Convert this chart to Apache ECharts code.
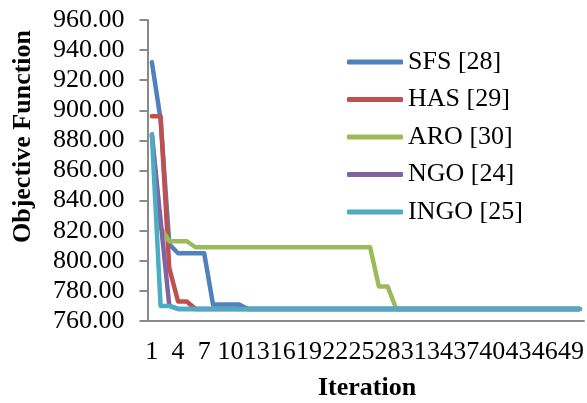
<!DOCTYPE html>
<html>
<head>
<meta charset="utf-8">
<script src="https://cdn.jsdelivr.net/npm/echarts@6/dist/echarts.min.js"></script>
<style>
html,body{margin:0;padding:0;background:#fff;}
#chart{width:587px;height:403px;}
</style>
</head>
<body>
<div id="chart"></div>
<script>
const iterations = ["1","2","3","4","5","6","7","8","9","10","11","12","13","14","15","16","17","18","19","20","21","22","23","24","25","26","27","28","29","30","31","32","33","34","35","36","37","38","39","40","41","42","43","44","45","46","47","48","49","50"];
const seriesNames = ["SFS [28]", "HAS [29]", "ARO [30]", "NGO [24]", "INGO [25]"];
const sfs  = [932,894,811,805,805,805,805,771,771,771,771,768,768,768,768,768,768,768,768,768,768,768,768,768,768,768,768,768,768,768,768,768,768,768,768,768,768,768,768,768,768,768,768,768,768,768,768,768,768,768];
const has  = [896,896,795,773,773,768,768,768,768,768,768,768,768,768,768,768,768,768,768,768,768,768,768,768,768,768,768,768,768,768,768,768,768,768,768,768,768,768,768,768,768,768,768,768,768,768,768,768,768,768];
const aro  = [884,822,813,813,813,809,809,809,809,809,809,809,809,809,809,809,809,809,809,809,809,809,809,809,809,809,783,783,768,768,768,768,768,768,768,768,768,768,768,768,768,768,768,768,768,768,768,768,768,768];
const ngo  = [884,827,770,768,768,768,768,768,768,768,768,768,768,768,768,768,768,768,768,768,768,768,768,768,768,768,768,768,768,768,768,768,768,768,768,768,768,768,768,768,768,768,768,768,768,768,768,768,768,768];
const ingo = [884,770,770,768,768,768,768,768,768,768,768,768,768,768,768,768,768,768,768,768,768,768,768,768,768,768,768,768,768,768,768,768,768,768,768,768,768,768,768,768,768,768,768,768,768,768,768,768,768,768];
const colors = ["#4F81BD", "#C0504D", "#9BBB59", "#8064A2", "#4BACC6"];
const yMin = 760, yMax = 960, yStep = 20;

const font = "Liberation Serif";
const allData = [sfs, has, aro, ngo, ingo];

const chart = echarts.init(document.getElementById('chart'), null, {renderer: 'canvas'});
chart.setOption({
  animation: false,
  color: colors,
  grid: {left: 147.5, right: 3, top: 20, bottom: 82, containLabel: false},
  legend: {
    orient: 'vertical',
    left: 347, top: 49,
    padding: 0,
    icon: 'roundRect',
    itemWidth: 56, itemHeight: 5,
    itemGap: 11.5,
    textStyle: {fontFamily: font, fontSize: 26, color: '#000', lineHeight: 26, padding: [0,0,0,0]},
    data: seriesNames
  },
  xAxis: {
    type: 'category',
    data: iterations,
    boundaryGap: true,
    axisLine: {lineStyle: {color: '#898989', width: 2}},
    axisTick: {show: false},
    axisLabel: {interval: 2, margin: 18, fontFamily: font, fontSize: 26, color: '#000'},
    splitLine: {show: false}
  },
  yAxis: {
    type: 'value',
    min: yMin, max: yMax, interval: yStep,
    axisLine: {show: true, lineStyle: {color: '#898989', width: 2}},
    axisTick: {show: true, length: 8, lineStyle: {color: '#898989', width: 2}},
    axisLabel: {margin: 23, fontFamily: font, fontSize: 26, color: '#000', formatter: v => v.toFixed(2)},
    splitLine: {show: false}
  },
  graphic: [
    {type: 'text', x: 23, y: 136.5, rotation: Math.PI/2,
     style: {text: 'Objective Function', fontFamily: font, fontSize: 26, fontWeight: 'bold', fill: '#000', align: 'center', verticalAlign: 'middle'}},
    {type: 'text', x: 367, y: 388,
     style: {text: 'Iteration', fontFamily: font, fontSize: 26, fontWeight: 'bold', fill: '#000', align: 'center', verticalAlign: 'middle'}}
  ],
  series: seriesNames.map((n, i) => ({
    name: n,
    type: 'line',
    data: allData[i],
    showSymbol: false,
    symbol: 'none',
    lineStyle: {width: 4.5, color: colors[i], cap: 'round', join: 'round'},
    itemStyle: {color: colors[i]}
  }))
});
</script>
</body>
</html>
